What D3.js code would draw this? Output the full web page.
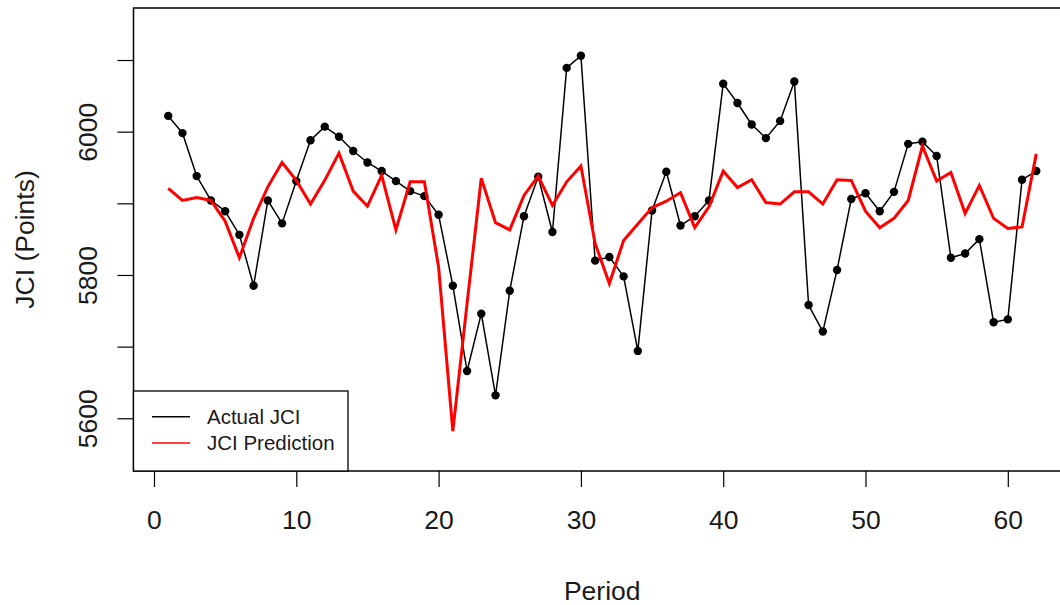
<!DOCTYPE html>
<html>
<head>
<meta charset="utf-8">
<script src="https://cdn.jsdelivr.net/npm/d3@7"></script>
<style>
  html, body { margin: 0; padding: 0; background: #fff; }
  svg { display: block; font-family: "Liberation Sans", Arial, sans-serif; }
</style>
</head>
<body>
<svg id="chart" width="1060" height="605"></svg>
<script>
// Jakarta Composite Index: observed closing level vs. model prediction, per period
const periods = d3.range(1, 63);

const actualJCI = [
  6022, 5998, 5938, 5904, 5889, 5856, 5785, 5904, 5872, 5931,
  5988, 6007, 5993, 5973, 5957, 5945, 5931, 5917, 5910, 5884,
  5785, 5666, 5746, 5632, 5778, 5882, 5937, 5860, 6089, 6106,
  5820, 5825, 5798, 5694, 5890, 5944, 5869, 5882, 5904, 6067,
  6040, 6010, 5991, 6015, 6070, 5758, 5721, 5807, 5906, 5914,
  5889, 5916, 5983, 5986, 5966, 5824, 5830, 5850, 5734, 5738,
  5933, 5945
];

const predictedJCI = [
  5921, 5904, 5908, 5904, 5875, 5824, 5879, 5923, 5957, 5932,
  5899, 5932, 5970, 5917, 5896, 5939, 5863, 5930, 5930, 5811,
  5582, 5760, 5935, 5873, 5863, 5911, 5938, 5897, 5930, 5952,
  5844, 5788, 5848, 5871, 5894, 5903, 5915, 5866, 5895, 5945,
  5922, 5933, 5901, 5899, 5916, 5916, 5899, 5933, 5932, 5889,
  5866, 5879, 5904, 5980, 5931, 5943, 5886, 5925, 5879, 5865,
  5867, 5969
];

const xTicks = [0, 10, 20, 30, 40, 50, 60];
const yTicks = [5600, 5700, 5800, 5900, 6000, 6100];
const yTickLabels = [5600, 5800, 6000];

const legendItems = [
  { label: "Actual JCI", color: "#000000", width: 1.5 },
  { label: "JCI Prediction", color: "#ff0000", width: 1.5 }
];

const svg = d3.select("#chart");
const W = 1060, H = 605;
svg.append("rect").attr("width", W).attr("height", H).attr("fill", "#fff");

// plotting region (right edge runs just past the canvas)
const plot = { left: 133.5, right: 1071, top: 8, bottom: 471 };

const x = d3.scaleLinear().domain([-1.44, 64.44]).range([plot.left, plot.right]);
const y = d3.scaleLinear().domain([5526.4, 6172.6]).range([plot.bottom, plot.top]);

const fontSize = 26.5;
const textColor = "#1a1a1a";

svg.append("defs").append("clipPath").attr("id", "plot-clip")
  .append("rect")
  .attr("x", plot.left).attr("y", plot.top)
  .attr("width", plot.right - plot.left).attr("height", plot.bottom - plot.top);

const g = svg.append("g").attr("clip-path", "url(#plot-clip)");

const line = d3.line().x((d, i) => x(periods[i])).y(d => y(d));

// observed series: thin black line with filled dots
g.append("path")
  .datum(actualJCI)
  .attr("d", line)
  .attr("fill", "none")
  .attr("stroke", "#000")
  .attr("stroke-width", 1.5)
  .attr("stroke-linejoin", "round");

g.selectAll("circle.actual")
  .data(actualJCI)
  .join("circle")
  .attr("class", "actual")
  .attr("cx", (d, i) => x(periods[i]))
  .attr("cy", d => y(d))
  .attr("r", 4.2)
  .attr("fill", "#000");

// model prediction: thicker red line
g.append("path")
  .datum(predictedJCI)
  .attr("d", line)
  .attr("fill", "none")
  .attr("stroke", "#ff0000")
  .attr("stroke-width", 3)
  .attr("stroke-linejoin", "miter");

// bottom axis
const xAxis = d3.axisBottom(x)
  .tickValues(xTicks)
  .tickSize(16)
  .tickPadding(23)
  .tickFormat(d3.format("d"));

const gx = svg.append("g")
  .attr("transform", `translate(0,${plot.bottom})`)
  .call(xAxis);
gx.select(".domain").remove();
gx.selectAll(".tick line").attr("stroke", "#000").attr("stroke-width", 1.2);
gx.selectAll(".tick text")
  .attr("fill", textColor)
  .style("font-size", fontSize + "px")
  .style("font-family", "'Liberation Sans', Arial, sans-serif");

// left axis
const yAxis = d3.axisLeft(y)
  .tickValues(yTicks)
  .tickSize(16)
  .tickFormat(d => yTickLabels.includes(d) ? d3.format("d")(d) : "");

const gy = svg.append("g")
  .attr("transform", `translate(${plot.left},0)`)
  .call(yAxis);
gy.select(".domain").remove();
gy.selectAll(".tick line").attr("stroke", "#000").attr("stroke-width", 1.2);
gy.selectAll(".tick text")
  .attr("x", 0).attr("dy", null)
  .attr("text-anchor", "middle")
  .attr("transform", "translate(-37,0) rotate(-90)")
  .attr("fill", textColor)
  .style("font-size", fontSize + "px")
  .style("font-family", "'Liberation Sans', Arial, sans-serif");

// plot frame
svg.append("rect")
  .attr("x", plot.left).attr("y", plot.top)
  .attr("width", plot.right - plot.left).attr("height", plot.bottom - plot.top)
  .attr("fill", "none").attr("stroke", "#000").attr("stroke-width", 1.5);

// axis titles
svg.append("text")
  .attr("x", (plot.left + plot.right) / 2)
  .attr("y", 600)
  .attr("text-anchor", "middle")
  .attr("fill", textColor)
  .style("font-size", fontSize + "px")
  .text("Period");

svg.append("text")
  .attr("transform", `translate(34,${(plot.top + plot.bottom) / 2}) rotate(-90)`)
  .attr("text-anchor", "middle")
  .attr("fill", textColor)
  .style("font-size", fontSize + "px")
  .text("JCI (Points)");

// legend
const legend = { left: plot.left, top: 391, right: 348, bottom: plot.bottom };
svg.append("rect")
  .attr("x", legend.left).attr("y", legend.top)
  .attr("width", legend.right - legend.left).attr("height", legend.bottom - legend.top)
  .attr("fill", "#fff").attr("stroke", "#000").attr("stroke-width", 1.3);

const rowY = [416.7, 443];
const lg = svg.append("g");
legendItems.forEach((item, i) => {
  lg.append("line")
    .attr("x1", 152).attr("x2", 190)
    .attr("y1", rowY[i]).attr("y2", rowY[i])
    .attr("stroke", item.color).attr("stroke-width", item.width);
  lg.append("text")
    .attr("x", 207).attr("y", rowY[i])
    .attr("dy", "0.35em")
    .attr("fill", textColor)
    .style("font-size", "20.5px")
    .text(item.label);
});
</script>
</body>
</html>
